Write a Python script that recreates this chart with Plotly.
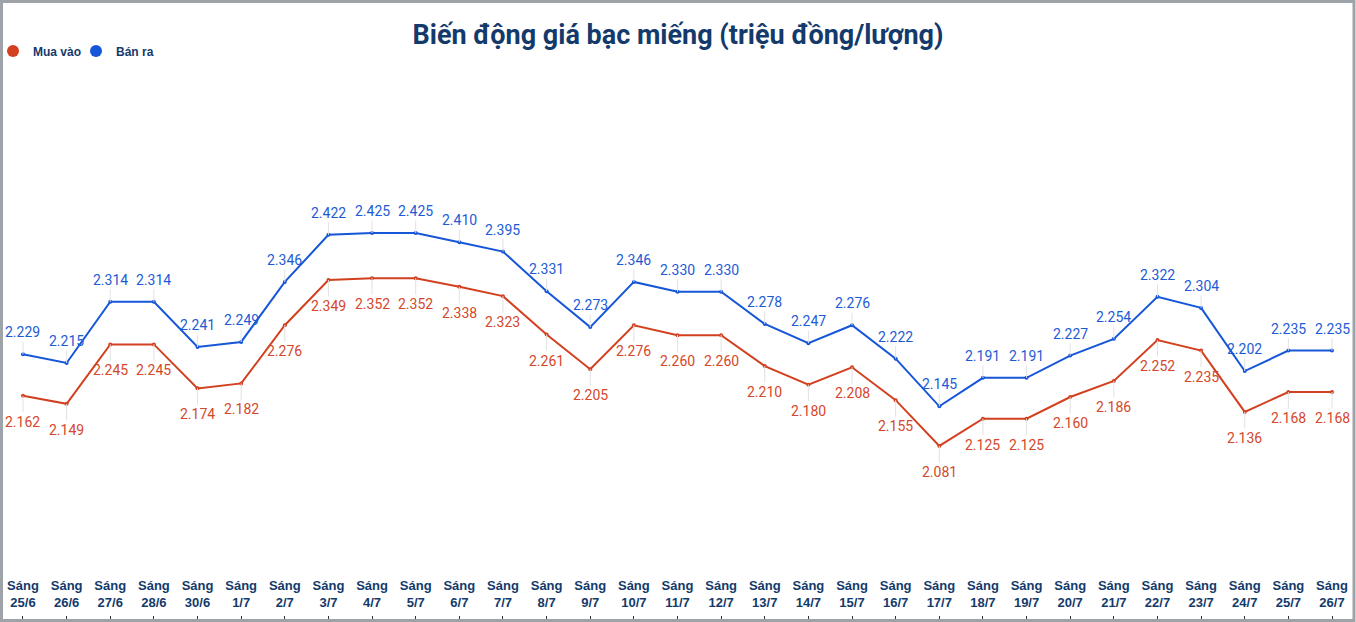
import plotly.graph_objects as go

dates = ["25/6", "26/6", "27/6", "28/6", "30/6", "1/7", "2/7", "3/7", "4/7", "5/7",
         "6/7", "7/7", "8/7", "9/7", "10/7", "11/7", "12/7", "13/7", "14/7", "15/7",
         "16/7", "17/7", "18/7", "19/7", "20/7", "21/7", "22/7", "23/7", "24/7", "25/7", "26/7"]
tick_labels = ["Sáng<br>" + d for d in dates]

ban_ra = [2.229, 2.215, 2.314, 2.314, 2.241, 2.249, 2.346, 2.422, 2.425, 2.425,
          2.410, 2.395, 2.331, 2.273, 2.346, 2.330, 2.330, 2.278, 2.247, 2.276,
          2.222, 2.145, 2.191, 2.191, 2.227, 2.254, 2.322, 2.304, 2.202, 2.235, 2.235]
mua_vao = [2.162, 2.149, 2.245, 2.245, 2.174, 2.182, 2.276, 2.349, 2.352, 2.352,
           2.338, 2.323, 2.261, 2.205, 2.276, 2.260, 2.260, 2.210, 2.180, 2.208,
           2.155, 2.081, 2.125, 2.125, 2.160, 2.186, 2.252, 2.235, 2.136, 2.168, 2.168]

W, H = 1356, 622
T, B = 70, 7
PH = H - T - B

RED = "#d2401f"
BLUE = "#1656d8"
NAVY = "#133a6b"


def py(p):
    return (H - B - p) / PH


xs = list(range(len(dates)))

fig = go.Figure()
fig.add_trace(go.Scatter(x=xs, y=mua_vao, mode="lines+markers", showlegend=False,
                         line=dict(color=RED, width=2), marker=dict(size=4, color=RED)))
fig.add_trace(go.Scatter(x=xs, y=ban_ra, mode="lines+markers", showlegend=False,
                         line=dict(color=BLUE, width=2), marker=dict(size=4, color=BLUE)))
fig.add_trace(go.Scatter(x=[None], y=[None], mode="markers", name="Mua vào",
                         marker=dict(size=12, color=RED)))
fig.add_trace(go.Scatter(x=[None], y=[None], mode="markers", name="Bán ra",
                         marker=dict(size=12, color=BLUE)))

annotations = []
for x, v in zip(xs, ban_ra):
    annotations.append(dict(x=x, y=v, xref="x", yref="y", text=f"{v:.3f}",
                            showarrow=True, arrowhead=0, arrowwidth=1, arrowcolor="#e2e2e2",
                            ax=0, ay=-22, font=dict(family="Roboto", size=14, color="#1d5bd6")))
for x, v in zip(xs, mua_vao):
    annotations.append(dict(x=x, y=v, xref="x", yref="y", text=f"{v:.3f}",
                            showarrow=True, arrowhead=0, arrowwidth=1, arrowcolor="#e2e2e2",
                            ax=0, ay=26, font=dict(family="Roboto", size=14, color="#d4472a")))

fig.update_layout(
    width=W, height=H,
    margin=dict(l=0, r=0, t=T, b=B, autoexpand=False),
    paper_bgcolor="white", plot_bgcolor="white",
    title=dict(text="Biến động giá bạc miếng (triệu đồng/lượng)", x=0.5, xanchor="center",
               y=1 - 35 / H, yanchor="middle",
               font=dict(family="Roboto", size=27, color=NAVY, weight="bold")),
    legend=dict(orientation="h", xref="paper", yref="paper",
                x=-7 / W, xanchor="left", y=py(51), yanchor="middle",
                font=dict(family="Liberation Sans", size=12, color=NAVY, weight="bold"),
                entrywidth=38, bgcolor="rgba(0,0,0,0)"),
    xaxis=dict(range=[-0.527, 30.55], tickmode="array", tickvals=xs, ticktext=tick_labels,
               showgrid=False, zeroline=False, showline=False, automargin=False,
               ticks="outside", ticklen=3, tickcolor="#333", tickwidth=1,
               ticklabelposition="inside", ticklabelstandoff=2,
               tickfont=dict(family="Liberation Sans", size=13, color=NAVY, weight="bold")),
    yaxis=dict(range=[1.8079, 2.6883], visible=False),
    annotations=annotations,
    shapes=[dict(type="rect", xref="paper", yref="paper",
                 x0=1.5 / W, x1=(W - 2) / W, y0=py(H - 1.5), y1=py(1.5),
                 line=dict(color="#9ea3a9", width=3), fillcolor="rgba(0,0,0,0)", layer="above")],
    hovermode=False,
)

fig.write_html("out.html")
